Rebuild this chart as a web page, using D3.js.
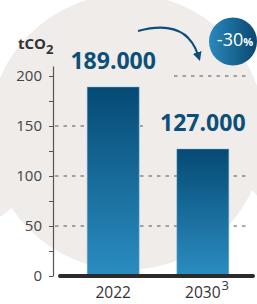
<!DOCTYPE html>
<html>
<head>
<meta charset="utf-8">
<script src="https://cdn.jsdelivr.net/npm/d3@7"></script>
<style>
  body { margin: 0; background: #fff; }
  svg { display: block; font-family: "Open Sans", sans-serif; }
</style>
</head>
<body>
<div id="chart"></div>
<script>
// data
const years = ["2022", "2030"];
const yearNotes = ["", "3"];
const tonnes = [189, 127];
const tonneLabels = ["189.000", "127.000"];
const yTicks = [0, 25, 50, 75, 100, 125, 150, 175, 200];
const yLabelled = [0, 50, 100, 150, 200];
const gridValues = [50, 100, 150, 200];
const change = "-30";

const width = 257, height = 304;
const bg = "#efecea";
const blue = "#0c4f79";

const svg = d3.select("#chart").append("svg")
    .attr("width", width)
    .attr("height", height);

const defs = svg.append("defs");
const barGrad = defs.append("linearGradient")
    .attr("id", "barGrad")
    .attr("x1", 0).attr("y1", 0).attr("x2", 0).attr("y2", 1);
barGrad.append("stop").attr("offset", "0%").attr("stop-color", "#054a74");
barGrad.append("stop").attr("offset", "100%").attr("stop-color", "#2b8dc1");

const badgeGrad = defs.append("linearGradient")
    .attr("id", "badgeGrad")
    .attr("x1", 0).attr("y1", 0).attr("x2", 1).attr("y2", 0);
badgeGrad.append("stop").attr("offset", "0%").attr("stop-color", "#2a89bc");
badgeGrad.append("stop").attr("offset", "100%").attr("stop-color", "#0a4870");

defs.append("marker")
    .attr("id", "head")
    .attr("viewBox", "0 0 10 10")
    .attr("refX", 3).attr("refY", 5)
    .attr("markerWidth", 4.5).attr("markerHeight", 4.5)
    .attr("orient", "auto")
  .append("path")
    .attr("d", "M0,0L10,5L0,10Z")
    .attr("fill", blue);

// background shape
svg.append("circle")
    .attr("cx", 127).attr("cy", 132).attr("r", 138)
    .attr("fill", bg);
svg.append("path").attr("d", "M0,160L12,208L0,217Z").attr("fill", bg);
svg.append("path").attr("d", "M258,160L252,190L258,197Z").attr("fill", bg);

// scales
const y = d3.scaleLinear().domain([0, 210]).range([276, 66]);
const x = d3.scaleBand().domain(years).range([63, 253])
    .paddingInner(0.42).paddingOuter(0.27);
const axisX = 53;

// dashed grid
svg.append("g")
  .selectAll("line")
  .data(gridValues)
  .join("line")
    .attr("x1", axisX + 2)
    .attr("x2", 250)
    .attr("y1", d => y(d))
    .attr("y2", d => y(d))
    .attr("stroke", "#555")
    .attr("stroke-width", 1)
    .attr("stroke-dasharray", "3.5,5");

// label backgrounds hide the grid behind the numbers
const labelY = d => y(d) - 18;
svg.append("g")
  .selectAll("rect")
  .data(years)
  .join("rect")
    .attr("x", d => x(d) + x.bandwidth() / 2 - 60)
    .attr("y", (d, i) => labelY(tonnes[i]) - 24)
    .attr("width", 120)
    .attr("height", 33)
    .attr("fill", bg);

// bars
svg.append("g")
  .selectAll("rect")
  .data(years)
  .join("rect")
    .attr("x", d => x(d))
    .attr("y", (d, i) => y(tonnes[i]))
    .attr("width", x.bandwidth())
    .attr("height", (d, i) => y(0) - y(tonnes[i]))
    .attr("fill", "url(#barGrad)")
    .attr("stroke", "#7fb4d4")
    .attr("stroke-opacity", 0.45)
    .attr("stroke-width", 1);

// y axis
const yAxis = svg.append("g")
    .attr("transform", `translate(${axisX},0)`)
    .call(d3.axisLeft(y)
      .tickValues(yTicks)
      .tickSize(4)
      .tickSizeOuter(0)
      .tickPadding(7)
      .tickFormat(d => yLabelled.includes(d) ? d : ""))
    .attr("font-family", null)
    .attr("font-size", null);
yAxis.select(".domain").attr("stroke", "#555").attr("stroke-width", 1.2);
yAxis.selectAll(".tick line").attr("stroke", "#555");
yAxis.selectAll(".tick text")
    .attr("fill", "#444")
    .style("font-size", "15px");

// baseline
svg.append("line")
    .attr("x1", 60).attr("x2", 253)
    .attr("y1", y(0)).attr("y2", y(0))
    .attr("stroke", "#2b2b2b")
    .attr("stroke-width", 4)
    .attr("stroke-linecap", "round");

// axis title
const title = svg.append("text")
    .attr("x", 18).attr("y", 49)
    .attr("fill", "#333")
    .style("font-size", "15px")
    .style("font-weight", 700)
    .text("tCO");
title.append("tspan")
    .attr("dy", 5)
    .style("font-size", "13px")
    .text("2");

// value labels
svg.append("g")
  .selectAll("text")
  .data(years)
  .join("text")
    .attr("x", d => x(d) + x.bandwidth() / 2)
    .attr("y", (d, i) => labelY(tonnes[i]))
    .attr("text-anchor", "middle")
    .attr("fill", blue)
    .style("font-size", "23px")
    .style("font-weight", 700)
    .text((d, i) => tonneLabels[i]);

// year labels
const yearText = svg.append("g")
  .selectAll("text")
  .data(years)
  .join("text")
    .attr("x", d => x(d) + x.bandwidth() / 2)
    .attr("y", 298)
    .attr("text-anchor", "middle")
    .attr("fill", "#333")
    .style("font-size", "15.5px")
    .text(d => d);

yearText.each(function(d, i) {
  if (!yearNotes[i]) return;
  const w = this.getComputedTextLength();
  svg.append("text")
      .attr("x", x(d) + x.bandwidth() / 2 + w / 2 + 1)
      .attr("y", 290)
      .attr("fill", "#333")
      .style("font-size", "13px")
      .text(yearNotes[i]);
});

// arrow
svg.append("path")
    .attr("d", "M138,31Q186,18 198,55")
    .attr("fill", "none")
    .attr("stroke", blue)
    .attr("stroke-width", 2)
    .attr("marker-end", "url(#head)");

// badge
svg.append("circle")
    .attr("cx", 233).attr("cy", 41.5).attr("r", 24)
    .attr("fill", "url(#badgeGrad)");
const badge = svg.append("text")
    .attr("x", 235).attr("y", 46)
    .attr("text-anchor", "middle")
    .attr("fill", "#fff")
    .style("font-size", "18px")
    .text(change);
badge.append("tspan")
    .style("font-size", "11px")
    .style("font-weight", 700)
    .text("%");
</script>
</body>
</html>
